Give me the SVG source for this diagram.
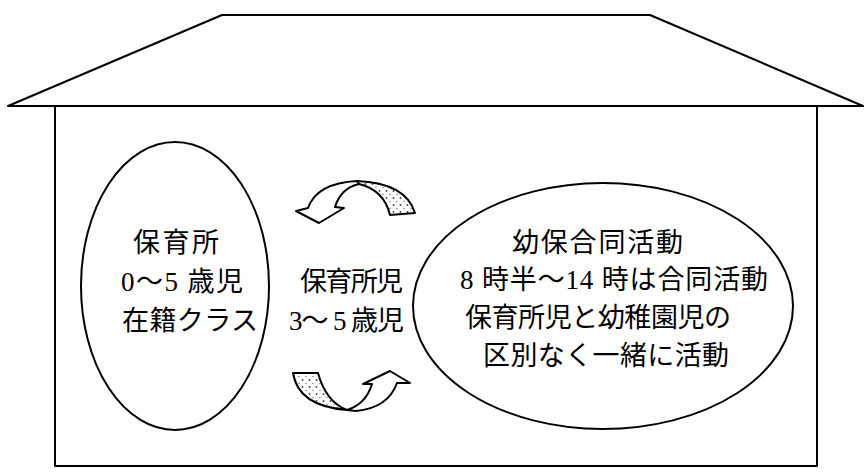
<svg xmlns="http://www.w3.org/2000/svg" width="866" height="473" viewBox="0 0 866 473">
<defs>
<pattern id="speck" width="7" height="7" patternUnits="userSpaceOnUse">
<rect width="7" height="7" fill="#fff"/>
<circle cx="1.5" cy="2" r="0.9" fill="#444"/>
<circle cx="5" cy="5.5" r="0.7" fill="#666"/>
</pattern>
<style>
.ln{fill:#fff;stroke:#000;stroke-width:2;stroke-linejoin:round}
.sh{fill:url(#speck);stroke:#000;stroke-width:2;stroke-linejoin:round}
.t{font-family:"Liberation Serif","Noto Sans CJK JP",serif;font-size:27px;fill:#000}
</style>
</defs>
<rect width="866" height="473" fill="#fff"/>
<g id="house">
<polygon class="ln" points="8,106 222,15 650,15 863,106"/>
<rect class="ln" x="55" y="106" width="762" height="360" fill="none"/>
</g>
<g id="hoikusho">
<ellipse class="ln" cx="175" cy="286" rx="94" ry="144"/>
<text class="t" x="133" y="252" textLength="86" lengthAdjust="spacing">保育所</text>
<text class="t" x="121" y="291" textLength="122" lengthAdjust="spacing">0〜5 歳児</text>
<text class="t" x="122" y="330" textLength="136" lengthAdjust="spacing">在籍クラス</text>
</g>
<g id="goudou">
<ellipse class="ln" cx="603" cy="306" rx="190" ry="123"/>
<text class="t" x="512" y="252" textLength="171" lengthAdjust="spacing">幼保合同活動</text>
<text class="t" x="460" y="289" textLength="308" lengthAdjust="spacing">8 時半〜14 時は合同活動</text>
<text class="t" x="465" y="327" textLength="266" lengthAdjust="spacing">保育所児と幼稚園児の</text>
<text class="t" x="483" y="365" textLength="246" lengthAdjust="spacing">区別なく一緒に活動</text>
</g>
<g id="hoikushoji">
<text class="t" x="300" y="291" textLength="103" lengthAdjust="spacing">保育所児</text>
<text class="t" x="289" y="330" textLength="115" lengthAdjust="spacing">3〜 5 歳児</text>
</g>
<g id="connectors">
<path class="sh" d="M357,181 Q406,183 415,213 L390,215 Q384,190 359,184 Z"/>
<path class="ln" d="M357,181 Q317,183 308,208 L296,211 L319,223 L344,208 L335,207 Q341,188 359,184 Z"/>
<path class="sh" d="M293,373 L318,373 Q326,402 347,410 Q298,406 293,373 Z"/>
<path class="ln" d="M347,410 Q366,404 372,384 L363,384 L390,371 L410,383 L397,383 Q388,408 356,411 Z"/>
</g>
</svg>
